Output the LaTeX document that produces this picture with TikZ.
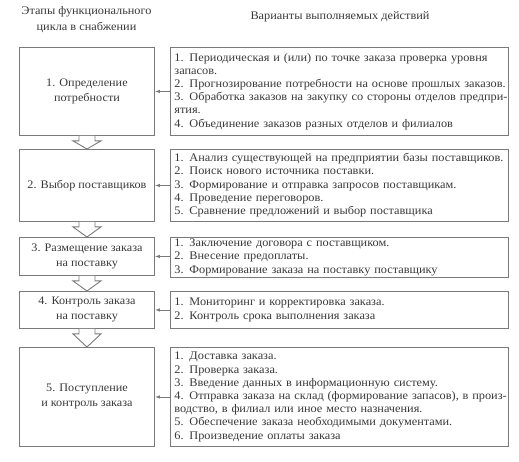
\documentclass[tikz,border=0pt]{standalone}
\usepackage{fontspec}
\setmainfont[FakeStretch=1.06]{Liberation Serif}
\usetikzlibrary{arrows.meta,calc}
\definecolor{linegray}{HTML}{7A7A7A}
\definecolor{textgray}{HTML}{383838}
\newcommand{\actlines}[1]{\begin{tabular}{@{}l@{}}#1\end{tabular}}
\begin{document}
\begin{tikzpicture}[x=1pt,y=-1pt,
  every node/.style={text=textgray},
  headtext/.style={font=\fontsize{11.6}{16}\selectfont, align=center, inner sep=0pt},
  stagebox/.style={draw=linegray, line width=0.9pt, minimum width=135pt, anchor=north west,
    align=center, inner sep=0pt, font=\fontsize{11.5}{15}\selectfont},
  actbox/.style={draw=linegray, line width=0.9pt, text width=330pt, inner xsep=4pt, inner ysep=0pt,
    align=left, anchor=north west, font=\fontsize{11.6}{13.2}\selectfont},
  link/.style={draw=linegray, line width=0.8pt, -{Latex[length=5pt,width=3.5pt]}},
  blockarrow/.style={draw=linegray, line width=0.9pt, fill=white, line join=miter}]
\useasboundingbox (0,0) rectangle (519,462);

\node[headtext] (h1) at (86.5,20) {Этапы функционального\\цикла в снабжении};
\node[headtext] (h2) at (340,17) {Варианты выполняемых действий};

\node[stagebox, minimum height=88pt] (s1) at (19,47) {1. Определение\\потребности};
\node[stagebox, minimum height=72pt] (s2) at (19,149) {2. Выбор поставщиков};
\node[stagebox, minimum height=38pt] (s3) at (19,237) {3. Размещение заказа\\на поставку};
\node[stagebox, minimum height=37pt] (s4) at (19,291) {4. Контроль заказа\\на поставку};
\node[stagebox, minimum height=99pt] (s5) at (19,347) {5. Поступление\\и контроль заказа};

\node[actbox, minimum height=88pt] (a1) at (170,47) {\actlines{1. Периодическая и (или) по точке заказа проверка уровня\\
запасов.\\
2. Прогнозирование потребности на основе прошлых заказов.\\
3. Обработка заказов на закупку со стороны отделов предпри-\\
ятия.\\
4. Объединение заказов разных отделов и филиалов}};
\node[actbox, minimum height=72pt] (a2) at (170,149) {\actlines{1. Анализ существующей на предприятии базы поставщиков.\\
2. Поиск нового источника поставки.\\
3. Формирование и отправка запросов поставщикам.\\
4. Проведение переговоров.\\
5. Сравнение предложений и выбор поставщика}};
\node[actbox, minimum height=38pt] (a3) at (170,237) {\actlines{1. Заключение договора с поставщиком.\\
2. Внесение предоплаты.\\
3. Формирование заказа на поставку поставщику}};
\node[actbox, minimum height=37pt] (a4) at (170,291) {\actlines{1. Мониторинг и корректировка заказа.\\
2. Контроль срока выполнения заказа}};
\node[actbox, minimum height=99pt] (a5) at (170,347) {\actlines{1. Доставка заказа.\\
2. Проверка заказа.\\
3. Введение данных в информационную систему.\\
4. Отправка заказа на склад (формирование запасов), в произ-\\
водство, в филиал или иное место назначения.\\
5. Обеспечение заказа необходимыми документами.\\
6. Произведение оплаты заказа}};

\foreach \i in {1,...,5}{
  \draw[link] (a\i.west |- s\i.east) -- (s\i.east);
}

\foreach \i/\j in {1/2,2/3,3/4,4/5}{
  \draw[blockarrow] ($(s\i.south)+(-8,0)$) -- ($(s\i.south)+(-8,5)$) -- ($(s\i.south)+(-14,5)$)
    -- (s\j.north) -- ($(s\i.south)+(14,5)$) -- ($(s\i.south)+(8,5)$) -- ($(s\i.south)+(8,0)$);
}
\end{tikzpicture}
\end{document}
